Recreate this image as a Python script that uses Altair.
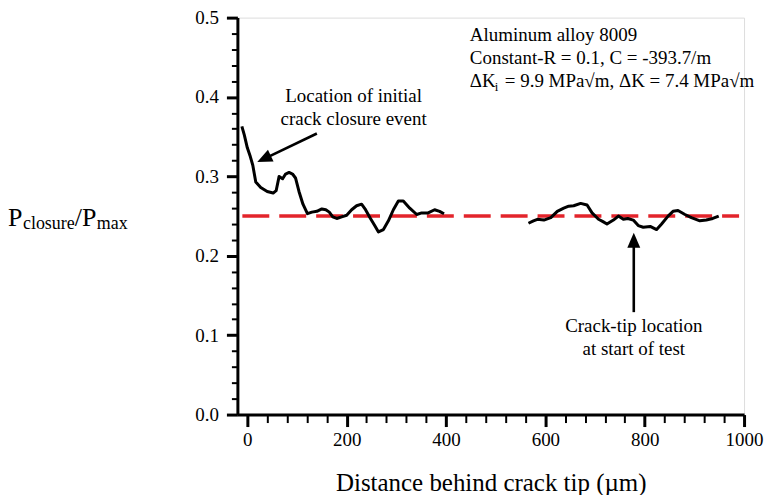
import math
import altair as alt
import pandas as pd

# ---- data ----
seg1_x = [-11, -6, 0, 6, 11, 17, 27, 40, 52, 58, 64, 71, 77, 84, 91, 97, 104, 112, 121, 130,
          140, 150, 158, 165, 172, 180, 190, 200, 210, 220, 230, 238, 247, 257, 264, 274, 284,
          294, 304, 314, 327, 341, 351, 364, 377, 387, 396]
seg1_y = [0.363, 0.352, 0.336, 0.325, 0.314, 0.293, 0.286, 0.281, 0.279, 0.282, 0.300, 0.297,
          0.303, 0.305, 0.303, 0.298, 0.281, 0.265, 0.253, 0.255, 0.256, 0.259, 0.258, 0.255,
          0.249, 0.247, 0.249, 0.251, 0.258, 0.263, 0.265, 0.258, 0.248, 0.2375, 0.230, 0.233,
          0.244, 0.258, 0.269, 0.269, 0.260, 0.252, 0.254, 0.254, 0.258, 0.256, 0.253]
seg2_x = [566, 576, 584, 597, 611, 624, 637, 647, 657, 671, 684, 694, 707, 716, 724, 737, 747,
          757, 766, 777, 787, 797, 811, 824, 834, 847, 857, 867, 881, 894, 911, 924, 937, 949]
seg2_y = [0.241, 0.244, 0.246, 0.245, 0.248, 0.256, 0.260, 0.2625, 0.263, 0.266, 0.264, 0.254,
          0.246, 0.243, 0.240, 0.245, 0.250, 0.246, 0.247, 0.245, 0.238, 0.236, 0.237, 0.233,
          0.240, 0.250, 0.256, 0.257, 0.252, 0.248, 0.244, 0.245, 0.247, 0.250]
ref_x = [-10, 990]
ref_y = [0.25, 0.25]

x_ticks = list(range(0, 1001, 40))
y_ticks = [round(i * 0.02, 2) for i in range(26)]

ann1_lines = ["Location of initial", "crack closure event"]
ann1_x = [214, 214]
ann1_y = [0.394, 0.365]

info_lines = ["Aluminum alloy 8009", "Constant-R = 0.1, C = -393.7/m"]
info_x = [448, 448]
info_y = [0.470, 0.441]
info3_x = 448
info3_y = 0.4125

ann2_lines = ["Crack-tip location", "at start of test"]
ann2_x = [778, 778]
ann2_y = [0.104, 0.075]

# arrows: start (tail) and tip
arrow1_tail = (140, 0.354)
arrow1_tip = (20, 0.318)
arrow2_tail = (778, 0.129)
arrow2_tip = (778, 0.229)

FONT = "Liberation Serif"
W, H = 508, 398
XDOM = [-20, 1000]
YDOM = [0, 0.5]
px_x = W / (XDOM[1] - XDOM[0])
px_y = H / (YDOM[1] - YDOM[0])

df = pd.DataFrame({
    "x": seg1_x + seg2_x,
    "y": seg1_y + seg2_y,
    "seg": ["a"] * len(seg1_x) + ["b"] * len(seg2_x),
})
ref = pd.DataFrame({"x": ref_x, "y": ref_y})

xscale = alt.Scale(domain=XDOM, nice=False, zero=False)
yscale = alt.Scale(domain=YDOM, nice=False)

xaxis = alt.Axis(
    values=x_ticks,
    labelExpr="datum.value % 200 === 0 ? format(datum.value, 'd') : ''",
    tickSize={"condition": {"test": "datum.value % 200 === 0", "value": 12}, "value": 8},
    tickWidth={"condition": {"test": "datum.value % 200 === 0", "value": 3}, "value": 2},
    labelFont=FONT, labelFontSize=19, labelColor="black", labelPadding=4,
    labelOverlap=False, labelFlush=False,
    domainColor="black", domainWidth=3, tickColor="black", grid=False,
    title="Distance behind crack tip (\u00b5m)", titleFont=FONT, titleFontSize=25,
    titleFontWeight="normal", titleColor="black", titlePadding=21,
)
ytest = "abs(datum.value*10 - round(datum.value*10)) < 1e-6"
yaxis = alt.Axis(
    values=y_ticks,
    labelExpr=f"{ytest} ? format(datum.value, '.1f') : ''",
    tickSize={"condition": {"test": ytest, "value": 11}, "value": 6},
    tickWidth={"condition": {"test": ytest, "value": 3}, "value": 2},
    labelFont=FONT, labelFontSize=19, labelColor="black", labelPadding=8,
    labelOverlap=False, labelFlush=False,
    domainColor="black", domainWidth=3, tickColor="black", grid=False, title=None,
)

X = alt.X("x:Q", scale=xscale, axis=xaxis)
Y = alt.Y("y:Q", scale=yscale, axis=yaxis)

refline = alt.Chart(ref).mark_line(color="#e3242b", strokeWidth=3.5, strokeDash=[27, 10]).encode(x=X, y=Y)
curve = alt.Chart(df).mark_line(color="black", strokeWidth=3, strokeJoin="round").encode(x=X, y=Y, detail="seg:N")


def text_layer(xs, ys, lines, align, size=19, **kw):
    d = pd.DataFrame({"x": xs, "y": ys, "t": lines})
    return alt.Chart(d).mark_text(font=FONT, fontSize=size, align=align, baseline="alphabetic",
                                  color="black", **kw).encode(x=X, y=Y, text="t:N")


ann1 = text_layer(ann1_x, ann1_y, ann1_lines, "center")
info = text_layer(info_x, info_y, info_lines, "left")
info3a = text_layer([info3_x], [info3_y], ["\u0394K"], "left")
info3b = text_layer([info3_x], [info3_y], ["i"], "left", size=13, dx=25, dy=4)
info3c = text_layer([info3_x], [info3_y], ["= 9.9 MPa\u221am, \u0394K = 7.4 MPa\u221am"], "left", dx=35)
ann2 = text_layer(ann2_x, ann2_y, ann2_lines, "center")


def arrow(tail, tip):
    dxp = (tip[0] - tail[0]) * px_x
    dyp = -(tip[1] - tail[1]) * px_y
    ang = math.degrees(math.atan2(dxp, -dyp)) % 360
    f = 0.14
    end = (tip[0] + f * (tail[0] - tip[0]), tip[1] + f * (tail[1] - tip[1]))
    sd = pd.DataFrame({"x": [tail[0]], "y": [tail[1]], "x2": [end[0]], "y2": [end[1]]})
    shaft = alt.Chart(sd).mark_rule(color="black", strokeWidth=2.6).encode(x=X, y=Y, x2="x2:Q", y2="y2:Q")
    hd = pd.DataFrame({"x": [tip[0]], "y": [tip[1]]})
    head = alt.Chart(hd).mark_point(shape="M0,0L0.65,1.5L-0.65,1.5Z", filled=True, color="black",
                                    opacity=1, size=400, angle=ang).encode(x=X, y=Y)
    return shaft + head


a1 = arrow(arrow1_tail, arrow1_tip)
a2 = arrow(arrow2_tail, arrow2_tip)


# y-axis title built from pieces (P_closure / P_max)
def ptext(t, x, y, size):
    return alt.Chart(pd.DataFrame({"t": [t]})).mark_text(
        font=FONT, fontSize=size, align="left", baseline="alphabetic", color="black"
    ).encode(x=alt.value(x), y=alt.value(y), text="t:N")


yt = (ptext("P", -230, 209, 26) + ptext("closure", -215, 212, 18)
      + ptext("/P", -163, 209, 26) + ptext("max", -141, 212, 18))

chart = alt.layer(refline, curve, ann1, info, info3a, info3b, info3c, ann2, a1, a2, yt).properties(
    width=W, height=H,
    autosize=alt.AutoSizeParams(type="none"),
    padding={"left": 230, "top": 9, "right": 20, "bottom": 80},
).configure_view(stroke=None).configure(background="white")

chart.save("out.html", embed_options={"renderer": "svg", "actions": False})
